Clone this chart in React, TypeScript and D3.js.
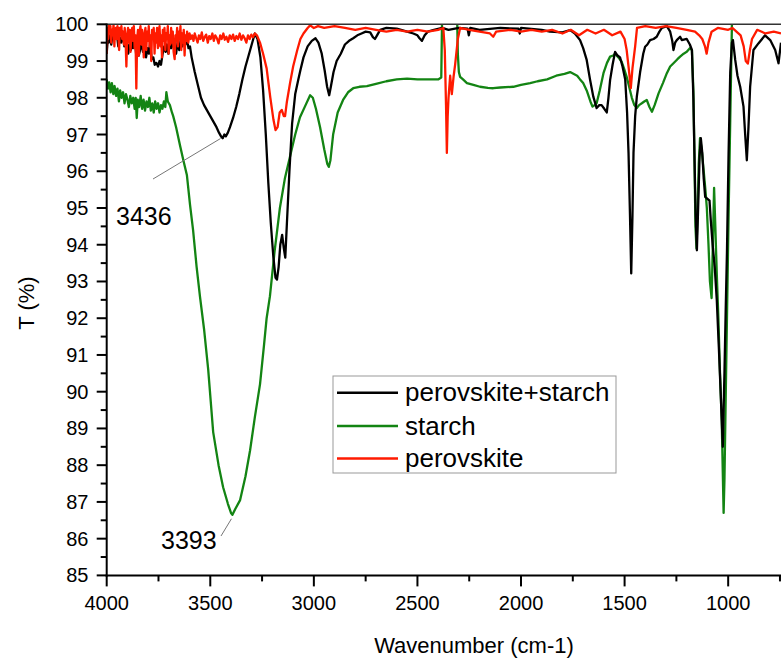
import React from "react";
import * as d3 from "d3";

type Pt = [number, number];

const seriesNames = ["perovskite+starch", "starch", "perovskite"];
const seriesColors = ["#000000", "#138413", "#ff1a00"];

const xTicksMajor = [4000, 3500, 3000, 2500, 2000, 1500, 1000];
const xTicksMinor = [3750, 3250, 2750, 2250, 1750, 1250, 750];
const yTicksMajor = [85, 86, 87, 88, 89, 90, 91, 92, 93, 94, 95, 96, 97, 98, 99, 100];

const peakLabels = [
  { text: "3436", wn: 3436, t: 97.0 },
  { text: "3393", wn: 3393, t: 86.65 },
];

const blackData: Pt[] = [
  [4000, 99.2], [3995, 99.6], [3990, 99.5], [3984, 99.7], [3978, 99.45], [3970, 99.8], [3963, 99.6], [3955, 99.85],
  [3950, 99.7], [3944, 99.4], [3938, 99.65], [3930, 99.5], [3922, 99.75], [3915, 99.4], [3908, 99.6], [3903, 99.5],
  [3896, 99.2], [3890, 99.45], [3883, 99.3], [3877, 99.55], [3872, 99.35], [3865, 99.6], [3858, 99.2], [3850, 99.45],
  [3845, 99.15], [3839, 99.3], [3832, 99.5], [3825, 99.25], [3818, 99.45], [3810, 99.1], [3803, 99.35], [3796, 99.2],
  [3790, 99.5], [3783, 99.05], [3775, 99.1], [3768, 98.9], [3760, 98.95], [3752, 98.85], [3745, 99.0], [3738, 98.9],
  [3730, 99.2], [3722, 99.4], [3715, 99.25], [3710, 99.45], [3702, 99.2], [3695, 99.5], [3688, 99.35], [3680, 99.55],
  [3673, 99.3], [3665, 99.2], [3658, 99.5], [3650, 99.3], [3642, 99.6], [3635, 99.4], [3628, 99.55], [3620, 99.45],
  [3613, 99.6], [3605, 99.35], [3598, 99.4], [3590, 99.1], [3575, 98.7], [3560, 98.35], [3545, 98.0], [3530, 97.8],
  [3515, 97.65], [3500, 97.5], [3485, 97.35], [3470, 97.2], [3458, 97.05], [3448, 96.95], [3440, 96.9], [3432, 97.0],
  [3425, 96.95], [3415, 97.05], [3405, 97.2], [3390, 97.45], [3375, 97.75], [3360, 98.1], [3345, 98.5], [3330, 98.85],
  [3315, 99.15], [3300, 99.45], [3285, 99.75], [3272, 99.6], [3258, 99.1], [3245, 98.2], [3232, 97.0], [3220, 95.7],
  [3208, 94.6], [3196, 93.7], [3185, 93.1], [3178, 93.05], [3170, 93.4], [3162, 94.0], [3153, 94.27], [3145, 93.9],
  [3138, 93.65], [3130, 94.6], [3118, 96.0], [3105, 97.3], [3090, 98.1], [3075, 98.5], [3065, 98.75], [3050, 99.1],
  [3030, 99.4], [3010, 99.55], [2992, 99.62], [2978, 99.5], [2962, 99.2], [2948, 98.75], [2936, 98.3], [2926, 98.07],
  [2918, 98.3], [2905, 98.7], [2890, 99.0], [2870, 99.2], [2850, 99.45], [2830, 99.55], [2810, 99.62], [2790, 99.7],
  [2770, 99.75], [2750, 99.8], [2728, 99.78], [2715, 99.65], [2705, 99.6], [2695, 99.7], [2680, 99.85], [2650, 99.9],
  [2600, 99.88], [2550, 99.8], [2520, 99.75], [2500, 99.7], [2490, 99.62], [2478, 99.55], [2465, 99.7], [2450, 99.8],
  [2420, 99.85], [2380, 99.9], [2350, 99.85], [2300, 99.9], [2258, 99.88], [2252, 99.7], [2245, 99.9], [2200, 99.85],
  [2100, 99.9], [2012, 99.88], [2006, 99.75], [2000, 99.9], [1900, 99.85], [1860, 99.8], [1800, 99.78], [1763, 99.84],
  [1740, 99.75], [1715, 99.57], [1700, 99.35], [1683, 99.03], [1667, 98.5], [1651, 98.03], [1635, 97.72], [1622, 97.8],
  [1611, 97.8], [1598, 97.7], [1586, 97.6], [1578, 98.0], [1570, 98.48], [1558, 98.9], [1546, 99.25], [1534, 99.15],
  [1522, 99.1], [1510, 98.85], [1497, 98.5], [1488, 97.6], [1481, 96.5], [1474, 94.8], [1468, 93.22], [1462, 94.8],
  [1457, 96.5], [1449, 97.5], [1441, 98.03], [1425, 98.7], [1410, 99.2], [1401, 99.39], [1390, 99.45], [1377, 99.57],
  [1360, 99.6], [1345, 99.66], [1332, 99.8], [1320, 99.9], [1296, 99.95], [1280, 99.8], [1270, 99.55], [1264, 99.3],
  [1256, 99.5], [1248, 99.57], [1232, 99.66], [1224, 99.57], [1200, 99.6], [1185, 99.45], [1175, 99.3], [1168, 98.0],
  [1163, 96.5], [1157, 94.8], [1151, 93.85], [1145, 95.0], [1138, 96.4], [1132, 96.9], [1125, 96.5], [1118, 95.8],
  [1111, 95.3], [1100, 95.25], [1090, 95.2], [1084, 94.67], [1075, 94.0], [1065, 93.4], [1055, 92.5], [1045, 91.2],
  [1035, 89.8], [1026, 88.5], [1018, 90.5], [1012, 92.2], [1006, 93.77], [998, 96.5], [990, 98.7], [982, 99.5],
  [977, 99.57], [966, 99.03], [955, 98.6], [942, 98.3], [926, 97.76], [918, 97.0], [910, 96.3], [902, 97.2],
  [894, 98.3], [878, 99.3], [854, 99.48], [822, 99.7], [797, 99.57], [773, 99.3], [757, 98.94], [745, 99.5],
];

const greenData: Pt[] = [
  [4000, 98.5], [3994, 98.25], [3988, 98.42], [3981, 98.15], [3975, 98.4], [3968, 98.1], [3962, 98.32], [3955, 98.05],
  [3948, 98.25], [3941, 97.9], [3935, 98.2], [3928, 98.0], [3921, 98.15], [3914, 97.85], [3907, 98.1], [3900, 97.95],
  [3893, 97.75], [3886, 98.05], [3879, 97.85], [3872, 98.0], [3865, 97.7], [3860, 98.0], [3855, 97.45], [3850, 97.95],
  [3843, 97.75], [3836, 98.05], [3829, 97.7], [3822, 97.95], [3815, 97.65], [3808, 97.9], [3801, 97.75], [3794, 98.0],
  [3787, 97.65], [3780, 97.85], [3773, 97.6], [3766, 97.9], [3759, 97.7], [3752, 97.85], [3745, 97.6], [3738, 97.8],
  [3731, 97.7], [3724, 97.9], [3717, 97.75], [3712, 98.15], [3705, 97.9], [3695, 97.8], [3685, 97.6], [3679, 97.5],
  [3665, 97.2], [3646, 96.7], [3630, 96.3], [3613, 95.9], [3598, 95.1],
  [3583, 94.4], [3566, 93.4], [3550, 92.6], [3530, 91.7], [3510, 90.6], [3486, 88.9], [3460, 88.0], [3438, 87.4],
  [3415, 86.95], [3400, 86.7], [3393, 86.65], [3380, 86.8], [3356, 87.05], [3330, 87.7], [3308, 88.4], [3285, 89.3],
  [3260, 90.2], [3240, 91.3], [3228, 92.0], [3212, 92.6], [3190, 93.8], [3164, 95.0], [3140, 95.8], [3115, 96.4],
  [3090, 97.0], [3067, 97.47], [3040, 97.8], [3018, 98.07], [3005, 98.0], [2990, 97.7], [2970, 97.2], [2950, 96.6],
  [2935, 96.2], [2928, 96.12], [2920, 96.3], [2907, 97.0], [2885, 97.6], [2859, 97.94], [2835, 98.15], [2810, 98.26],
  [2780, 98.3], [2744, 98.32], [2700, 98.38], [2650, 98.45], [2600, 98.5], [2550, 98.52], [2500, 98.5], [2450, 98.5],
  [2400, 98.5], [2385, 98.55], [2380, 100.6], [2310, 100.6], [2305, 99.2], [2300, 98.7], [2294, 98.57], [2280, 98.5],
  [2261, 98.4], [2230, 98.35], [2198, 98.3], [2160, 98.27], [2134, 98.26], [2100, 98.28], [2037, 98.3], [2000, 98.35],
  [1956, 98.4], [1920, 98.45], [1874, 98.5], [1830, 98.6], [1790, 98.65], [1763, 98.7], [1729, 98.6], [1715, 98.5],
  [1700, 98.4], [1683, 98.2], [1665, 97.9], [1655, 97.76], [1645, 97.8], [1635, 97.85], [1620, 98.2], [1602, 98.67],
  [1585, 98.95], [1570, 99.12], [1555, 99.15], [1546, 99.2], [1530, 99.1], [1514, 98.98], [1500, 98.75], [1490, 98.57],
  [1478, 98.3], [1465, 98.0], [1453, 97.8], [1441, 97.72], [1430, 97.8], [1417, 97.85], [1405, 97.9], [1393, 97.94],
  [1380, 97.75], [1368, 97.62], [1355, 97.8], [1336, 98.12], [1315, 98.4], [1296, 98.67], [1280, 98.85], [1264, 98.94],
  [1245, 99.05], [1232, 99.12], [1215, 99.2], [1200, 99.25], [1185, 99.35], [1175, 99.3], [1168, 98.2], [1163, 96.5],
  [1158, 94.5], [1153, 93.9], [1148, 94.8], [1142, 96.2], [1136, 96.9], [1128, 96.6], [1118, 96.0], [1110, 95.5],
  [1103, 95.0], [1095, 94.0], [1088, 93.0], [1080, 92.55], [1074, 94.0], [1068, 95.55], [1062, 94.5], [1055, 93.2],
  [1047, 91.95], [1040, 90.6], [1031, 89.2], [1026, 87.8], [1022, 86.7], [1018, 87.6], [1012, 89.8], [1006, 91.95],
  [998, 94.8], [990, 97.4], [985, 99.0], [980, 100.6], [745, 100.6],
];

const redData: Pt[] = [
  [4000, 99.2], [3996, 99.9], [3993, 99.6], [3989, 100], [3986, 99.8], [3982, 99.95], [3978, 99.5], [3975, 99.85],
  [3971, 99.7], [3967, 100], [3963, 99.4], [3960, 99.8], [3956, 99.9], [3952, 99.6], [3948, 99.95], [3944, 99.75],
  [3940, 99.3], [3937, 99.9], [3933, 99.7], [3929, 99.95], [3925, 99.6], [3921, 99.8], [3917, 99.45], [3913, 99.9],
  [3909, 99.6], [3905, 98.85], [3901, 99.7], [3897, 99.9], [3893, 99.5], [3889, 99.85], [3885, 99.25], [3881, 99.75],
  [3877, 99.9], [3873, 99.55], [3869, 99.95], [3865, 99.35], [3861, 99.7], [3857, 98.25], [3853, 99.6], [3849, 99.85],
  [3845, 99.15], [3841, 99.8], [3837, 99.95], [3833, 99.45], [3829, 99.85], [3825, 99.6], [3821, 99.1], [3817, 99.75],
  [3813, 99.9], [3809, 99.3], [3805, 99.8], [3801, 99.55], [3797, 99.95], [3793, 99.4], [3789, 99.7], [3785, 99.0],
  [3781, 99.85], [3777, 99.6], [3773, 99.9], [3769, 99.2], [3765, 99.75], [3761, 99.5], [3757, 99.9], [3753, 99.35],
  [3749, 99.8], [3745, 99.95], [3741, 99.4], [3737, 99.7], [3733, 99.1], [3729, 99.85], [3725, 99.55], [3721, 99.9],
  [3717, 99.3], [3713, 99.75], [3709, 99.6], [3705, 99.95], [3701, 99.2], [3697, 99.7], [3693, 99.45], [3689, 99.9],
  [3685, 99.5], [3681, 99.8], [3677, 99.25], [3672, 99.05], [3668, 99.7], [3664, 99.55], [3660, 99.9], [3656, 99.4],
  [3652, 99.8], [3648, 99.6], [3644, 99.95], [3640, 99.3], [3636, 99.75], [3632, 99.5], [3628, 99.85], [3624, 99.15],
  [3620, 99.7], [3616, 99.55], [3612, 99.8], [3606, 99.5], [3600, 99.75], [3594, 99.6], [3588, 99.7], [3581, 99.55],
  [3575, 99.75], [3568, 99.62], [3561, 99.5], [3555, 99.7], [3548, 99.6], [3541, 99.78], [3534, 99.55], [3527, 99.65],
  [3520, 99.72], [3512, 99.5], [3505, 99.68], [3498, 99.6], [3490, 99.75], [3483, 99.55], [3476, 99.7], [3468, 99.62],
  [3460, 99.48], [3452, 99.7], [3445, 99.6], [3437, 99.75], [3430, 99.58], [3422, 99.66], [3414, 99.52], [3406, 99.7],
  [3398, 99.6], [3390, 99.72], [3382, 99.55], [3374, 99.68], [3366, 99.6], [3358, 99.75], [3350, 99.58], [3342, 99.7],
  [3334, 99.62], [3326, 99.5], [3318, 99.7], [3310, 99.6], [3302, 99.72], [3294, 99.65], [3285, 99.75], [3275, 99.7],
  [3260, 99.5], [3245, 99.2], [3228, 98.8], [3210, 98.0], [3195, 97.4], [3185, 97.12], [3175, 97.2], [3165, 97.6],
  [3155, 97.67], [3145, 97.5], [3139, 97.5], [3130, 97.9], [3115, 98.4], [3100, 98.85], [3080, 99.3], [3065, 99.6],
  [3050, 99.75], [3030, 99.9], [3018, 99.97], [3000, 99.9], [2980, 99.95], [2950, 99.9], [2900, 99.95], [2850, 99.9],
  [2800, 99.85], [2750, 99.9], [2700, 99.85], [2650, 99.8], [2600, 99.85], [2550, 99.8], [2500, 99.85], [2450, 99.8],
  [2400, 99.85], [2375, 99.9], [2368, 99.3], [2362, 97.8], [2358, 96.5], [2354, 97.5], [2350, 98.0], [2342, 98.6],
  [2334, 98.1], [2325, 98.6], [2318, 98.9], [2305, 99.6], [2294, 99.9], [2250, 99.85], [2200, 99.8], [2150, 99.75],
  [2134, 99.66], [2120, 99.8], [2050, 99.85], [2000, 99.8], [1950, 99.85], [1900, 99.8], [1850, 99.85], [1800, 99.75],
  [1760, 99.85], [1720, 99.7], [1680, 99.85], [1640, 99.75], [1600, 99.85], [1560, 99.7], [1520, 99.8], [1500, 99.6],
  [1490, 99.3], [1480, 98.8], [1470, 98.26], [1462, 98.8], [1449, 99.4], [1440, 99.9], [1400, 99.95], [1350, 99.9],
  [1300, 99.95], [1250, 99.9], [1200, 99.85], [1160, 99.8], [1140, 99.7], [1125, 99.6], [1112, 99.4], [1104, 99.2],
  [1095, 99.5], [1080, 99.8], [1050, 99.9], [1000, 99.85], [980, 99.9], [960, 99.8], [940, 99.7], [925, 99.4],
  [915, 99.0], [905, 98.93], [895, 99.3], [885, 99.6], [860, 99.85], [820, 99.75], [780, 99.8], [745, 99.75],
];

const W = 781;
const H = 660;
const plotLeft = 106.7;
const plotRight = 781;
const plotTop = 24.3;
const plotBottom = 575.4;
const FONT = "'Liberation Sans', Arial, Helvetica, sans-serif";

export default function App() {
  const x = d3.scaleLinear().domain([4000, 745]).range([plotLeft, plotRight]);
  const y = d3.scaleLinear().domain([85, 100]).range([plotBottom, plotTop]);
  const line = d3
    .line<Pt>()
    .x((d) => x(d[0]))
    .y((d) => y(d[1]));

  const yMinor = d3.range(85.5, 100, 1);
  const allSeries = [blackData, greenData, redData];

  const legendX = 333;
  const legendY = 376;
  const legendW = 283;
  const legendH = 97;
  const legendRows = [392.7, 426, 458.5];

  return (
    <svg
      width={W}
      height={H}
      style={{ position: "absolute", left: 0, top: 0, background: "#fff" }}
      fontFamily={FONT}
    >
      <defs>
        <clipPath id="plotclip">
          <rect x={plotLeft} y={plotTop} width={plotRight - plotLeft} height={plotBottom - plotTop} />
        </clipPath>
      </defs>

      <g clipPath="url(#plotclip)">
        {[1, 0, 2].map((i) => (
          <path
            key={i}
            d={line(allSeries[i]) || ""}
            fill="none"
            stroke={seriesColors[i]}
            strokeWidth={2.3}
            strokeLinejoin="round"
          />
        ))}
      </g>

      <line x1={plotLeft} x2={plotRight} y1={plotTop} y2={plotTop} stroke="#333" strokeWidth={1.6} />
      <line x1={plotLeft} x2={plotLeft} y1={plotTop - 0.8} y2={plotBottom + 1} stroke="#000" strokeWidth={2} />
      <line x1={plotLeft - 1} x2={plotRight} y1={plotBottom} y2={plotBottom} stroke="#000" strokeWidth={2} />

      {yTicksMajor.map((t) => (
        <g key={"ym" + t}>
          <line x1={plotLeft - 10} x2={plotLeft} y1={y(t)} y2={y(t)} stroke="#000" strokeWidth={2} />
          <text x={88.5} y={y(t)} textAnchor="end" dominantBaseline="central" fontSize={20} fill="#000">
            {t}
          </text>
        </g>
      ))}
      {yMinor.map((t) => (
        <line key={"yn" + t} x1={plotLeft - 6} x2={plotLeft} y1={y(t)} y2={y(t)} stroke="#000" strokeWidth={2} />
      ))}

      {xTicksMajor.map((t) => (
        <g key={"xm" + t}>
          <line x1={x(t)} x2={x(t)} y1={plotBottom} y2={plotBottom + 11} stroke="#000" strokeWidth={2} />
          <text x={x(t)} y={610} textAnchor="middle" fontSize={20} fill="#000">
            {t}
          </text>
        </g>
      ))}
      {xTicksMinor
        .filter((t) => t >= 745)
        .map((t) => (
          <line key={"xn" + t} x1={x(t)} x2={x(t)} y1={plotBottom} y2={plotBottom + 6} stroke="#000" strokeWidth={2} />
        ))}

      <text x={474} y={653} textAnchor="middle" fontSize={22} fill="#000">
        Wavenumber (cm-1)
      </text>
      <text transform="translate(34,303) rotate(-90)" textAnchor="middle" fontSize={22} fill="#000">
        T (%)
      </text>

      <line x1={153} y1={179} x2={x(peakLabels[0].wn) - 3} y2={y(peakLabels[0].t) + 4} stroke="#777" strokeWidth={1} />
      <text x={116} y={225} fontSize={25} fill="#000">
        {peakLabels[0].text}
      </text>
      <line x1={221} y1={536} x2={x(peakLabels[1].wn) - 1} y2={y(peakLabels[1].t) + 4} stroke="#777" strokeWidth={1} />
      <text x={161} y={549} fontSize={25} fill="#000">
        {peakLabels[1].text}
      </text>

      <rect x={legendX} y={legendY} width={legendW} height={legendH} fill="#fff" stroke="#999" strokeWidth={1} />
      {seriesNames.map((name, i) => (
        <g key={name}>
          <line
            x1={legendX + 4}
            x2={legendX + 65}
            y1={legendRows[i]}
            y2={legendRows[i]}
            stroke={seriesColors[i]}
            strokeWidth={2.5}
          />
          <text x={legendX + 72} y={legendRows[i] + 8.5} fontSize={26} fill="#000">
            {name}
          </text>
        </g>
      ))}
    </svg>
  );
}
